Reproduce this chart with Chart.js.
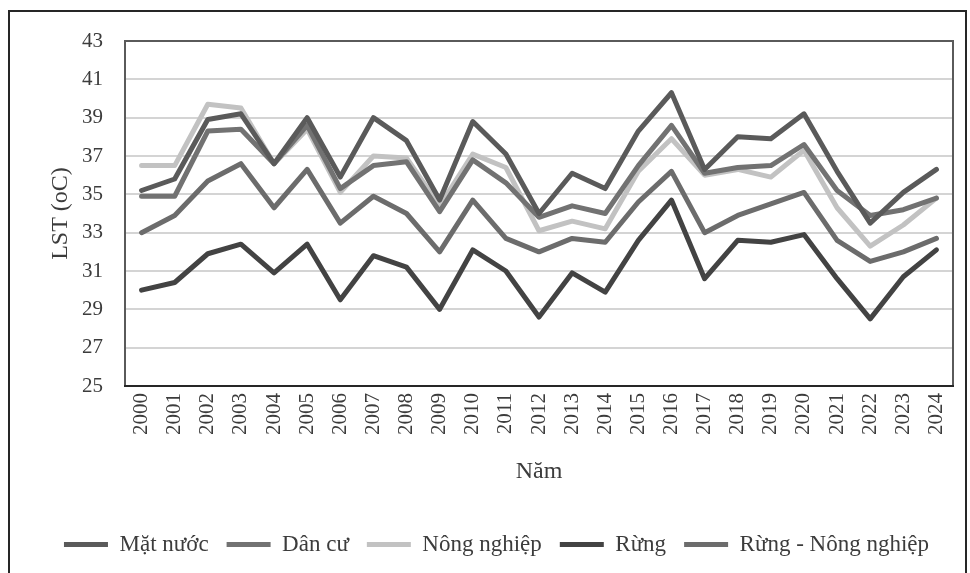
<!DOCTYPE html>
<html>
<head>
<meta charset="utf-8">
<script src="https://cdn.jsdelivr.net/npm/chart.js@4.4.1/dist/chart.umd.min.js"></script>
<style>
  body { margin: 0; background: #fff; }
  #wrap { width: 970px; height: 573px; }
</style>
</head>
<body>
<div id="wrap"><canvas id="lst" width="970" height="573"></canvas></div>
<script>
const years = ['2000', '2001', '2002', '2003', '2004', '2005', '2006', '2007', '2008', '2009',
  '2010', '2011', '2012', '2013', '2014', '2015', '2016', '2017', '2018', '2019',
  '2020', '2021', '2022', '2023', '2024']

const matNuoc = [35.2, 35.8, 38.9, 39.2, 36.6, 39.0, 35.9, 39.0, 37.8, 34.7,
  38.8, 37.1, 34.0, 36.1, 35.3, 38.3, 40.3, 36.3, 38.0, 37.9,
  39.2, 36.2, 33.5, 35.1, 36.3]
const danCu = [34.9, 34.9, 38.3, 38.4, 36.6, 38.6, 35.3, 36.5, 36.7, 34.1,
  36.8, 35.6, 33.8, 34.4, 34.0, 36.5, 38.6, 36.1, 36.4, 36.5,
  37.6, 35.2, 33.9, 34.2, 34.8]
const nongNghiep = [36.5, 36.5, 39.7, 39.5, 36.6, 38.4, 35.1, 37.0, 36.9, 34.4,
  37.1, 36.4, 33.1, 33.6, 33.2, 36.2, 37.9, 36.0, 36.3, 35.9,
  37.3, 34.3, 32.3, 33.4, 34.8]
const rung = [30.0, 30.4, 31.9, 32.4, 30.9, 32.4, 29.5, 31.8, 31.2, 29.0,
  32.1, 31.0, 28.6, 30.9, 29.9, 32.6, 34.7, 30.6, 32.6, 32.5,
  32.9, 30.6, 28.5, 30.7, 32.1]
const rungNongNghiep = [33.0, 33.9, 35.7, 36.6, 34.3, 36.3, 33.5, 34.9, 34.0, 32.0,
  34.7, 32.7, 32.0, 32.7, 32.5, 34.6, 36.2, 33.0, 33.9, 34.5,
  35.1, 32.6, 31.5, 32.0, 32.7]

const yMin = 25
const yMax = 43
const yStep = 2

const fontFamily = "'Liberation Serif', 'Times New Roman', serif"
const textColor = '#3c3c3c'

function line(label, data, color) {
  return {
    label: label,
    data: data,
    borderColor: color,
    backgroundColor: color,
    borderWidth: 5,
    borderJoinStyle: 'round',
    borderCapStyle: 'round',
    pointRadius: 0,
    pointHoverRadius: 0,
    tension: 0,
    fill: false
  }
}

// outer frame + plot area box
const framePlugin = {
  id: 'frame',
  beforeDraw(chart) {
    const ctx = chart.ctx
    ctx.save()
    ctx.fillStyle = '#fff'
    ctx.fillRect(0, 0, chart.width, chart.height)
    ctx.strokeStyle = '#262626'
    ctx.lineWidth = 2
    ctx.strokeRect(9, 11, 957, 600)
    ctx.restore()
  },
  beforeDatasetsDraw(chart) {
    const a = chart.chartArea
    const ctx = chart.ctx
    ctx.save()
    ctx.strokeStyle = '#5a5a5a'
    ctx.lineWidth = 2
    ctx.strokeRect(a.left, a.top, a.right - a.left, a.bottom - a.top)
    ctx.strokeStyle = '#262626'
    ctx.beginPath()
    ctx.moveTo(a.left - 1, a.bottom)
    ctx.lineTo(a.right + 1, a.bottom)
    ctx.stroke()
    ctx.restore()
  }
}

new Chart(document.getElementById('lst'), {
  type: 'line',
  data: {
    labels: years,
    datasets: [
      line('Mặt nước', matNuoc, '#5a5a5a'),
      line('Dân cư', danCu, '#727272'),
      line('Nông nghiệp', nongNghiep, '#c2c2c2'),
      line('Rừng', rung, '#434343'),
      line('Rừng - Nông nghiệp', rungNongNghiep, '#6c6c6c')
    ]
  },
  options: {
    responsive: false,
    animation: false,
    devicePixelRatio: 1,
    layout: {
      padding: { left: 40, top: 41, right: 17, bottom: 7 }
    },
    plugins: {
      legend: {
        display: true,
        position: 'bottom',
        labels: {
          usePointStyle: true,
          pointStyle: 'line',
          pointStyleWidth: 44,
          padding: 18,
          color: textColor,
          font: { family: fontFamily, size: 23 }
        }
      },
      tooltip: { enabled: false },
      title: { display: false }
    },
    scales: {
      x: {
        offset: true,
        grid: { display: false, drawTicks: false },
        border: { display: false },
        ticks: {
          color: textColor,
          font: { family: fontFamily, size: 21 },
          minRotation: 90,
          maxRotation: 90,
          padding: 7,
          autoSkip: false
        },
        title: {
          display: true,
          text: 'Năm',
          color: textColor,
          font: { family: fontFamily, size: 24 },
          padding: { top: 0, bottom: 29 }
        },
        afterFit(scale) { scale.height = 129 }
      },
      y: {
        min: yMin,
        max: yMax,
        grid: { color: '#d4d4d4', lineWidth: 2, drawTicks: false },
        border: { display: false },
        ticks: {
          stepSize: yStep,
          color: textColor,
          font: { family: fontFamily, size: 21 },
          padding: 22
        },
        title: {
          display: true,
          text: 'LST (oC)',
          color: textColor,
          font: { family: fontFamily, size: 24 },
          padding: { top: 6, bottom: 0 }
        },
        afterFit(scale) { scale.width = 85 }
      }
    }
  },
  plugins: [framePlugin]
})
</script>
</body>
</html>
